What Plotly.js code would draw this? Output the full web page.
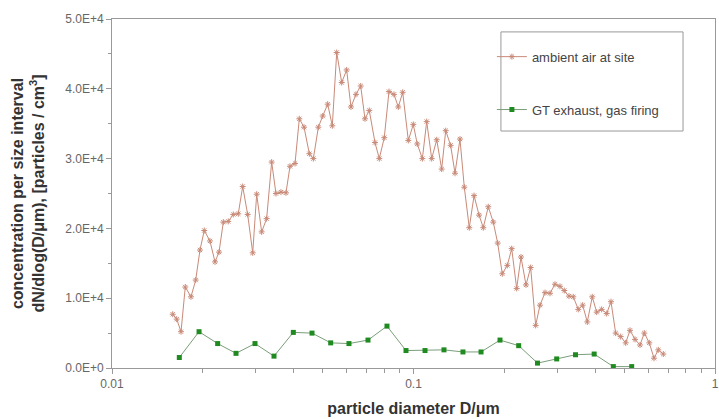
<!DOCTYPE html>
<html>
<head>
<meta charset="utf-8">
<script src="https://cdn.plot.ly/plotly-3.0.1.min.js"></script>
<style>
  html, body { margin: 0; padding: 0; background: #fff; }
  #chart { width: 719px; height: 419px; }
</style>
</head>
<body>
<div id="chart"></div>
<script>
// Ambient air at site: particle diameter (µm) and dN/dlog(D) (particles / cm3)
const diamAmbient = [
  0.01590, 0.01639, 0.01694, 0.01750, 0.01828, 0.01895, 0.01958, 0.02023, 0.02113, 0.02196,
  0.02264, 0.02340, 0.02430, 0.02525, 0.02623, 0.02713, 0.02818, 0.02929, 0.03019, 0.03136,
  0.03258, 0.03385, 0.03498, 0.03634, 0.03776, 0.03894, 0.04046, 0.04181, 0.04335, 0.04514,
  0.04654, 0.04835, 0.04999, 0.05193, 0.05379, 0.05563, 0.05779, 0.06002, 0.06203, 0.06445,
  0.06681, 0.06903, 0.07134, 0.07452, 0.07701, 0.07999, 0.08292, 0.08614, 0.08904, 0.09209,
  0.09612, 0.09984, 0.1029, 0.1070, 0.1106, 0.1149, 0.1194, 0.1240, 0.1279, 0.1328,
  0.1373, 0.1426, 0.1474, 0.1531, 0.1588, 0.1650, 0.1704, 0.1770, 0.1839, 0.1902,
  0.1970, 0.2047, 0.2117, 0.2199, 0.2273, 0.2361, 0.2447, 0.2542, 0.2627, 0.2730,
  0.2836, 0.2946, 0.3061, 0.3163, 0.3278, 0.3388, 0.3520, 0.3640, 0.3771, 0.3917,
  0.4051, 0.4208, 0.4373, 0.4519, 0.4683, 0.4866, 0.5056, 0.5225, 0.5429, 0.5639,
  0.5828, 0.6054, 0.6277, 0.6486, 0.6738
];
const concAmbient = [
  7700, 7000, 5200, 11600, 10200, 12600, 16900, 19700, 18200, 15200,
  16600, 20900, 21000, 22000, 22100, 26000, 22000, 16500, 24900, 19500,
  21400, 29500, 25000, 25200, 25100, 28900, 29300, 35700, 34500, 30700,
  30000, 34500, 36100, 37800, 34700, 45200, 40900, 42700, 37400, 39200,
  40400, 35700, 36900, 32300, 30000, 33000, 39600, 39200, 37400, 39500,
  32600, 34900, 32100, 30000, 35300, 30000, 32700, 28500, 34000, 31900,
  27900, 32800, 25900, 20100, 24700, 21900, 20100, 23100, 20900, 17900,
  13500, 14700, 17100, 11400, 15900, 11900, 14400, 6100, 9000, 10800,
  10700, 12000, 11700, 11100, 10300, 10200, 8400, 9000, 6600, 10200,
  8000, 8400, 7800, 9500, 5000, 4500, 3600, 5400, 4100, 3300,
  5000, 3600, 1400, 2600, 2000
];

// GT exhaust, gas firing
const diamGT = [
  0.01672, 0.01944, 0.02241, 0.02578, 0.02980, 0.03446, 0.03994, 0.04607, 0.05313, 0.06109,
  0.07064, 0.08167, 0.09443, 0.1092, 0.1262, 0.1459, 0.1675, 0.1936, 0.2233, 0.2578,
  0.2985, 0.3446, 0.3974, 0.4600, 0.5293
];
const concGT = [
  1500, 5200, 3500, 2100, 3500, 1700, 5100, 5000, 3600, 3500,
  4000, 6000, 2500, 2500, 2600, 2300, 2300, 4000, 3200, 700,
  1300, 1900, 2000, 200, 200
];

// Axis ticks
const xTickVals = [0.01, 0.1, 1];
const xTickText = ['0.01', '0.1', '1'];
const xMinorVals = [0.02, 0.03, 0.04, 0.05, 0.06, 0.07, 0.08, 0.09,
                    0.2, 0.3, 0.4, 0.5, 0.6, 0.7, 0.8, 0.9];
const yTickVals = [0, 10000, 20000, 30000, 40000, 50000];
const yTickText = ['0.0E+0', '1.0E+4', '2.0E+4', '3.0E+4', '4.0E+4', '5.0E+4'];

const seriesNames = ['ambient air at site', 'GT exhaust, gas firing'];

const traces = [
  {
    x: diamAmbient, y: concAmbient, name: seriesNames[0],
    type: 'scatter', mode: 'lines+markers', legendgroup: 'a',
    line: { color: '#c98a78', width: 1 },
    marker: { symbol: 'asterisk-open', size: 5, line: { color: '#a04a38', width: 1 } }
  },
  {
    x: diamGT, y: concGT, name: seriesNames[1],
    type: 'scatter', mode: 'lines+markers', legendgroup: 'b',
    line: { color: '#7a9e7a', width: 1 },
    marker: { symbol: 'square', size: 5, color: '#1f8a1f' }
  }
];

const axisFont = { family: 'Liberation Sans, Arial, sans-serif', size: 12, color: '#666' };

const layout = {
  width: 719, height: 419,
  margin: { l: 112, r: 4, t: 19, b: 51 },
  paper_bgcolor: '#fff', plot_bgcolor: '#fff',
  font: { family: 'Liberation Sans, Arial, sans-serif', color: '#444' },
  showlegend: true,
  xaxis: {
    type: 'log', range: [-2, 0],
    tickmode: 'array', tickvals: xTickVals, ticktext: xTickText,
    ticks: 'outside', ticklen: 5, tickcolor: '#999', tickwidth: 1,
    minor: { tickmode: 'array', tickvals: xMinorVals, ticks: 'outside', ticklen: 4, tickcolor: '#999', showgrid: false },
    showgrid: false, zeroline: false,
    showline: true, linecolor: '#999', linewidth: 1, mirror: true,
    tickfont: axisFont,
    title: { text: 'particle diameter D/μm', standoff: 12,
             font: { family: 'Liberation Sans, Arial, sans-serif', size: 16, color: '#333', weight: 'bold' } }
  },
  yaxis: {
    range: [0, 50000],
    tickmode: 'array', tickvals: yTickVals, ticktext: yTickText,
    ticks: 'outside', ticklen: 5, tickcolor: '#999', tickwidth: 1,
    minor: { dtick: 5000, ticks: 'outside', ticklen: 3, tickcolor: '#999', showgrid: false },
    showgrid: false, zeroline: false,
    showline: true, linecolor: '#999', linewidth: 1, mirror: true,
    tickfont: axisFont,
    title: { text: 'concentration per size interval<br>dN/dlog(D/μm), [particles / cm<sup>3</sup>]', standoff: 16,
             font: { family: 'Liberation Sans, Arial, sans-serif', size: 16, color: '#333', weight: 'bold' } }
  },
  legend: {
    x: 0.630, y: 0.935, xanchor: 'left', yanchor: 'top',
    bgcolor: 'rgba(0,0,0,0)', borderwidth: 0,
    traceorder: 'grouped', tracegroupgap: 33,
    font: { family: 'Liberation Sans, Arial, sans-serif', size: 13, color: '#444' },
    itemwidth: 30
  },
  shapes: [
    { type: 'rect', xref: 'paper', yref: 'paper',
      x0: 0.645, x1: 0.947, y0: 0.679, y1: 0.963,
      line: { color: '#999', width: 1 }, fillcolor: 'rgba(0,0,0,0)' }
  ]
};

Plotly.newPlot('chart', traces, layout, { displayModeBar: false, staticPlot: true });
</script>
</body>
</html>
